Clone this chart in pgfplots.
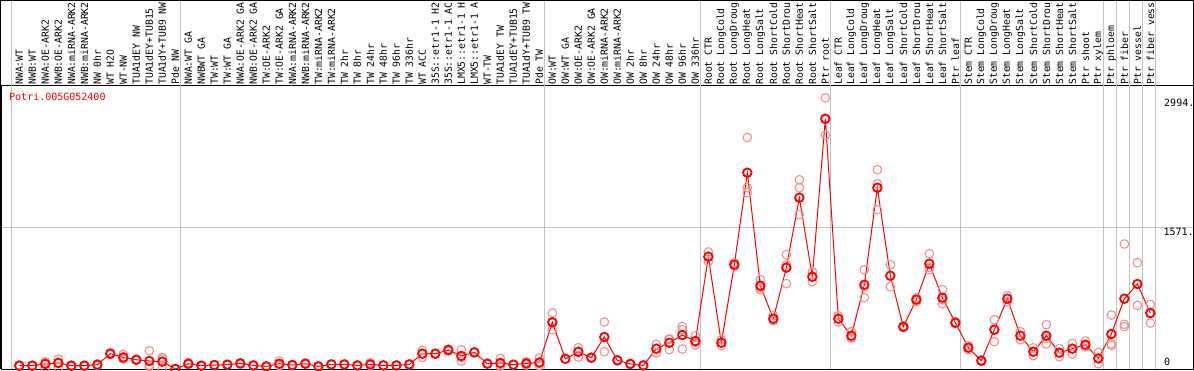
\documentclass[border=0pt]{standalone}
\usepackage{fontspec}
\setmainfont{DejaVu Sans Mono}
\usepackage{pgfplots}
\usepackage{pgfplotstable}
\pgfplotsset{compat=1.18}
\definecolor{rep}{RGB}{238,145,145}
\definecolor{grd}{RGB}{195,195,195}

\pgfplotstableread{
x a b c
1 30 37 44
2 33 37 41
3 81 67 20
4 111 74 16
5 30 40 41
6 35 37 39
7 40 52 52
8 170 180 160
9 162 115 110
10 100 106 103
11 203 40 24
12 129 110 4
13 0 0 0
14 50 59 68
15 37 37 37
16 44 40 48
17 48 44 52
18 62 70 54
19 40 36 44
20 29 25 33
21 89 50 38
22 44 40 48
23 59 65 53
24 29 25 33
25 51 47 55
26 51 47 55
27 40 36 44
28 70 45 38
29 40 36 44
30 40 36 44
31 51 47 55
32 207 174 129
33 170 165 175
34 222 211 200
35 215 131 89
36 185 180 190
37 59 55 63
38 118 50 33
39 48 44 52
40 80 62 44
41 122 60 37
42 623 509 437
43 115 111 119
44 237 200 133
45 126 122 130
46 523 353 192
47 96 92 100
48 56 52 60
49 40 36 44
50 274 226 178
51 334 327 215
52 474 438 222
53 370 296 267
54 1302 1252 1193
55 326 290 260
56 1180 1160 1140
57 2574 1960 2016
58 993 903 882
59 593 547 537
60 1271 1160 949
61 2105 2016 1716
62 1082 1026 971
63 3015 2772 2600
64 593 559 525
65 415 350 345
66 1104 915 793
67 2216 2060 1771
68 1160 1037 915
69 470 460 480
70 793 771 749
71 1282 1127 1104
72 882 771 726
73 515 505 525
74 237 215 260
75 92 85 99
76 548 437 304
77 815 782 749
78 415 370 325
79 192 148 236
80 493 340 278
81 226 181 136
82 285 226 167
83 311 251 248
84 185 110 59
85 600 281 262
86 1390 496 470
87 1182 945 707
88 718 612 511
}\reps

\pgfplotstableread{
x y
1 37
2 37
3 56
4 67
5 37
6 37
7 48
8 170
9 129
10 103
11 89
12 81
13 0
14 59
15 37
16 44
17 48
18 62
19 40
20 29
21 59
22 44
23 59
24 29
25 51
26 51
27 40
28 51
29 40
30 40
31 51
32 170
33 170
34 211
35 145
36 185
37 59
38 67
39 48
40 62
41 73
42 520
43 113
44 190
45 126
46 356
47 96
48 56
49 40
50 226
51 292
52 378
53 311
54 1249
55 292
56 1160
57 2183
58 926
59 559
60 1127
61 1905
62 1026
63 2783
64 559
65 370
66 937
67 2016
68 1037
69 470
70 771
71 1171
72 793
73 515
74 237
75 92
76 437
77 782
78 370
79 192
80 370
81 181
82 226
83 270
84 118
85 389
86 782
87 945
88 623
}\means

\begin{document}
\begin{tikzpicture}
\path[use as bounding box] (-1pt,-1pt) rectangle (1193pt,369pt);
\clip (-1pt,-1pt) rectangle (1193pt,369pt);
\begin{axis}[
  at={(0pt,0pt)}, anchor=south west,
  scale only axis, width=1192pt, height=283pt,
  xmin=-0.408, xmax=91.28, ymin=0, ymax=3147,
  clip=false,
  axis line style={black, line width=1pt},
  major tick length=0pt,
  xtick={1,...,88},
  xticklabel pos=upper,
  xticklabel style={rotate=90, anchor=west, inner sep=1pt, font=\fontsize{9.8}{11}\selectfont},
  xticklabels={NWA:WT,NWB:WT,NWA:OE-ARK2,NWB:OE-ARK2,NWA:miRNA-ARK2,NWB:miRNA-ARK2,NW 0hr,WT H2O,WT-NW,TUA1dEY NW,TUA1dEY+TUB15,TUA1dY+TUB9 NW,Pde NW,
    NWA:WT GA,NWBWT GA,TW:WT,TW:WT GA,NWA:OE-ARK2 GA,NWB:OE-ARK2 GA,TW:OE-ARK2,TW:OE-ARK2 GA,NWA:miRNA-ARK2,NWB:miRNA-ARK2,TW:miRNA-ARK2,TW:miRNA-ARK2,TW 2hr,TW 8hr,TW 24hr,TW 48hr,TW 96hr,TW 336hr,WT ACC,35S::etr1-1 H2,35S::etr1-1 AC,LMX5::etr1-1 H,LMX5::etr1-1 A,WT-TW,TUA1dEY TW,TUA1dEY+TUB15,TUA1dY+TUB9 TW,Pde TW,
    OW:WT,OW:WT GA,OW:OE-ARK2,OW:OE-ARK2 GA,OW:miRNA-ARK2,OW:miRNA-ARK2,OW 2hr,OW 8hr,OW 24hr,OW 48hr,OW 96hr,OW 336hr,
    Root CTR,Root LongCold,Root LongDroug,Root LongHeat,Root LongSalt,Root ShortCold,Root ShortDrou,Root ShortHeat,Root ShortSalt,Ptr root,
    Leaf CTR,Leaf LongCold,Leaf LongDroug,Leaf LongHeat,Leaf LongSalt,Leaf ShortCold,Leaf ShortDrou,Leaf ShortHeat,Leaf ShortSalt,Ptr leaf,
    Stem CTR,Stem LongCold,Stem LongDroug,Stem LongHeat,Stem LongSalt,Stem ShortCold,Stem ShortDrou,Stem ShortHeat,Stem ShortSalt,Ptr shoot,Ptr xylem,Ptr phloem,Ptr fiber,Ptr vessel,Ptr fiber vess},
  ytick={1571}, yticklabels={},
  ymajorgrids, grid style={grd, line width=1pt},
]
\pgfplotsinvokeforeach{0.38,13.38,41.38,53.38,63.38,73.38,84.38,85.38,86.38,87.38,88.42}{
  \draw[grd, line width=1pt] (axis cs:#1,0) -- (axis cs:#1,4300);
}
\addplot[only marks, mark=o, rep, mark size=4.3pt, line width=1.1pt] table[x=x,y=a] {\reps};
\addplot[only marks, mark=o, rep, mark size=4.3pt, line width=1.1pt] table[x=x,y=b] {\reps};
\addplot[only marks, mark=o, rep, mark size=4.3pt, line width=1.1pt] table[x=x,y=c] {\reps};
\addplot[red, line width=1pt, mark=o, mark size=4.3pt, mark options={line width=1.8pt}] table[x=x,y=y] {\means};
\node[anchor=west, inner sep=0pt, red, font=\fontsize{10}{12}\selectfont] at (axis cs:0.208,3024) {Potri.005G052400};
\node[anchor=west, inner sep=0pt, font=\fontsize{10}{12}\selectfont] at (axis cs:89.05,2957) {2994.};
\node[anchor=west, inner sep=0pt, font=\fontsize{10}{12}\selectfont] at (axis cs:89.0,1523) {1571.};
\node[anchor=west, inner sep=0pt, font=\fontsize{10}{12}\selectfont] at (axis cs:89.05,78) {0};
\end{axis}
\draw[black, line width=1pt] (0pt,0pt) -- (0pt,368.5pt) -- (1192pt,368.5pt) -- (1192pt,0pt);
\end{tikzpicture}
\end{document}
